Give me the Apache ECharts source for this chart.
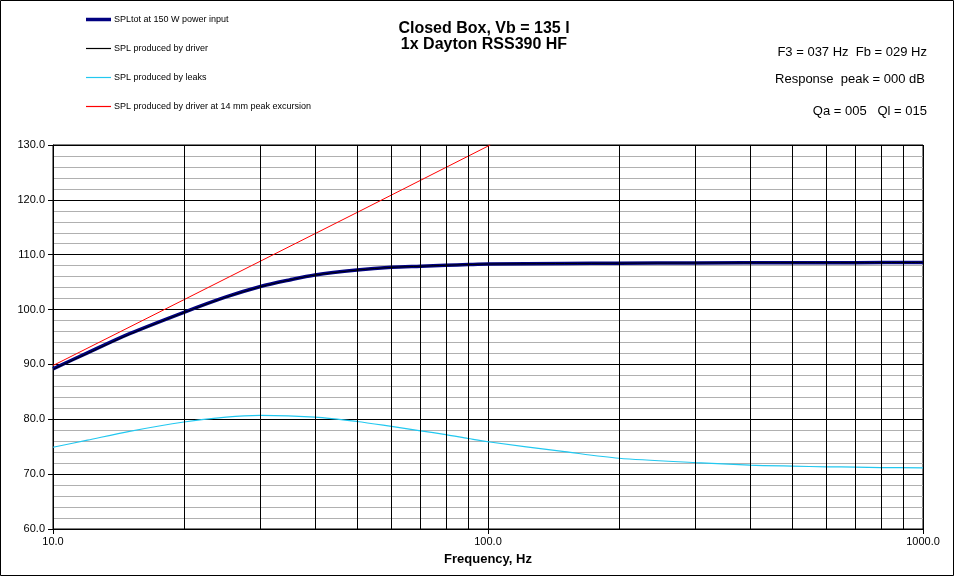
<!DOCTYPE html>
<html>
<head>
<meta charset="utf-8">
<script src="https://cdn.jsdelivr.net/npm/echarts@6/dist/echarts.min.js"></script>
<style>
html,body{margin:0;padding:0;background:#fff;}
#chart{width:954px;height:576px;}
</style>
</head>
<body>
<div id="chart"></div>
<script>
// ---- data ----
const freqMain = [10, 12, 15, 20, 25, 30, 35, 40, 50, 60, 70, 80, 90, 100, 150, 200, 300, 500, 700, 1000];
const splTot   = [89.2, 92.1, 95.6, 99.5, 102.3, 104.2, 105.4, 106.3, 107.2, 107.7, 107.9, 108.07, 108.2, 108.3, 108.4, 108.45, 108.5, 108.55, 108.55, 108.6];
const splDriver= [89.1, 92.0, 95.5, 99.45, 102.25, 104.15, 105.38, 106.28, 107.19, 107.69, 107.9, 108.07, 108.2, 108.3, 108.4, 108.45, 108.5, 108.55, 108.55, 108.6];
const freqLeaks = [10, 12, 15, 20, 25, 30, 40, 50, 60, 70, 80, 90, 100, 150, 200, 300, 400, 500, 600, 700, 800, 1000];
const splLeaks  = [74.9, 76.2, 77.8, 79.5, 80.4, 80.7, 80.4, 79.6, 78.7, 77.9, 77.2, 76.5, 75.9, 74.1, 72.9, 72.1, 71.65, 71.46, 71.34, 71.28, 71.2, 71.16];
const freqExc = [10, 20, 50, 100, 101.2];
const splExc  = [89.8, 101.8, 117.7, 129.8, 130.0];
const gridFreqs = [20, 30, 40, 50, 60, 70, 80, 90, 200, 300, 400, 500, 600, 700, 800, 900];
const seriesNames = [
  'SPLtot at 150 W power input',
  'SPL produced by driver',
  'SPL produced by leaks',
  'SPL produced by driver at 14 mm peak excursion'
];
const seriesColors = ['#000080', '#000000', '#22c8f0', '#ff0000'];
const titleLines = ['Closed Box, Vb = 135 l', '1x Dayton RSS390 HF'];
const infoLines = ['F3 = 037 Hz  Fb = 029 Hz', 'Response  peak = 000 dB', 'Qa = 005   Ql = 015'];
const xAxisName = 'Frequency, Hz';

const zip = (xs, ys) => xs.map((x, i) => [x, ys[i]]);
const FONT = '"Liberation Sans", Arial, sans-serif';
const THICK_ICON = 'path://M0 0H25V3.5H0Z';
const THIN_ICON = 'path://M0 0H25V1.2H0Z';

const chart = echarts.init(document.getElementById('chart'), null, {renderer: 'canvas'});
chart.setOption({
  backgroundColor: '#ffffff',
  animation: false,
  textStyle: {fontFamily: FONT},
  title: [
    {
      text: titleLines.join('\n'),
      left: 484, top: 21, textAlign: 'center', padding: 0,
      textStyle: {fontFamily: FONT, fontSize: 16, fontWeight: 'bold', color: '#000', lineHeight: 16}
    },
    {
      text: infoLines[0], right: 27, top: 46, padding: 0,
      textStyle: {fontFamily: FONT, fontSize: 13, fontWeight: 'normal', color: '#000'}
    },
    {
      text: infoLines[1], right: 29, top: 73, padding: 0,
      textStyle: {fontFamily: FONT, fontSize: 13, fontWeight: 'normal', color: '#000'}
    },
    {
      text: infoLines[2], right: 27, top: 105, padding: 0,
      textStyle: {fontFamily: FONT, fontSize: 13, fontWeight: 'normal', color: '#000'}
    }
  ],
  legend: {
    data: seriesNames.map((n, i) => ({
      name: n,
      icon: i === 0 ? THICK_ICON : THIN_ICON,
      itemStyle: {color: seriesColors[i], borderWidth: 0, opacity: 1}
    })),
    orient: 'vertical',
    left: 86, top: 15, padding: 0,
    itemWidth: 25, itemHeight: 12, itemGap: 20,
    textStyle: {fontFamily: FONT, fontSize: 9, color: '#000', padding: [0, 0, 0, -2]},
    selectedMode: false
  },
  graphic: [{
    type: 'rect', silent: true, z: 100,
    shape: {x: 0.5, y: 0.5, width: 953, height: 575},
    style: {fill: 'none', stroke: '#000', lineWidth: 1}
  }],
  grid: {
    left: 53, right: 31, top: 145, bottom: 47,
    containLabel: false, outerBoundsMode: 'none',
    show: true, borderColor: '#000', borderWidth: 1, backgroundColor: 'transparent'
  },
  xAxis: {
    type: 'log', logBase: 10, min: 10, max: 1000,
    name: xAxisName, nameLocation: 'middle', nameGap: 24,
    nameTextStyle: {fontFamily: FONT, fontSize: 13, fontWeight: 'bold', color: '#000'},
    axisLine: {show: true, lineStyle: {color: '#000', width: 1}},
    axisTick: {show: true, length: 5, lineStyle: {color: '#000'}},
    axisLabel: {color: '#000', fontSize: 11, fontFamily: FONT, margin: 7,
      formatter: v => Number(v).toFixed(1)},
    splitLine: {show: true, lineStyle: {color: '#000', width: 1}},
    minorTick: {show: false}, minorSplitLine: {show: false}
  },
  yAxis: {
    type: 'value', min: 60, max: 130, interval: 10,
    axisLine: {show: true, lineStyle: {color: '#000', width: 1}},
    axisTick: {show: true, length: 5, lineStyle: {color: '#000'}},
    axisLabel: {color: '#000', fontSize: 11, fontFamily: FONT, margin: 8,
      formatter: v => Number(v).toFixed(1)},
    splitLine: {show: true, lineStyle: {color: '#000', width: 1}},
    minorTick: {show: false, splitNumber: 5},
    minorSplitLine: {show: true, lineStyle: {color: '#b0b0b0', width: 1}}
  },
  series: [
    {
      name: '', type: 'line', data: [], z: 1, silent: true,
      markLine: {
        silent: true, symbol: 'none', animation: false,
        label: {show: false},
        lineStyle: {color: '#000', width: 1, type: 'solid'},
        emphasis: {disabled: true},
        data: gridFreqs.map(f => ({xAxis: f}))
      }
    },
    {
      name: seriesNames[0], type: 'line', z: 3, data: zip(freqMain, splTot),
      smooth: 0.3, symbol: 'none', lineStyle: {color: seriesColors[0], width: 3.5}, itemStyle: {color: seriesColors[0]}
    },
    {
      name: seriesNames[1], type: 'line', z: 4, data: zip(freqMain, splDriver),
      smooth: 0.3, symbol: 'none', lineStyle: {color: seriesColors[1], width: 1}, itemStyle: {color: seriesColors[1]}
    },
    {
      name: seriesNames[2], type: 'line', z: 3, data: zip(freqLeaks, splLeaks),
      smooth: 0.3, symbol: 'none', lineStyle: {color: seriesColors[2], width: 1.2}, itemStyle: {color: seriesColors[2]}
    },
    {
      name: seriesNames[3], type: 'line', z: 3, data: zip(freqExc, splExc),
      symbol: 'none', lineStyle: {color: seriesColors[3], width: 1}, itemStyle: {color: seriesColors[3]}
    }
  ]
});
</script>
</body>
</html>
